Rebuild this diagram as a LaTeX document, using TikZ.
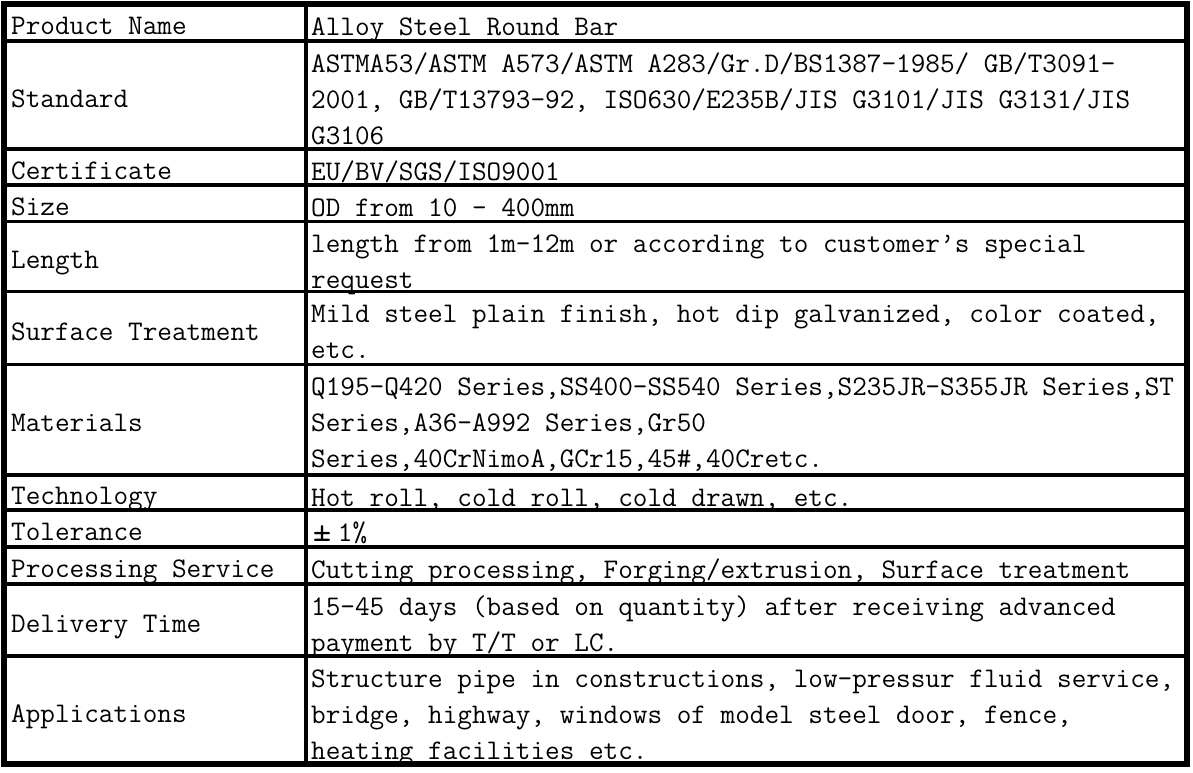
\documentclass[tikz,border=0pt]{standalone}
\usepackage{fontspec}
\usepackage{tikz}
\newcommand\cellfont{\ttfamily\fontsize{28.4}{36}\selectfont}
\frenchspacing

\begin{document}
\begin{tikzpicture}[
  x=1pt, y=-1pt,
  label/.style = {anchor=west, inner sep=0pt, yshift=-4.8pt, font=\cellfont, align=left},
  value/.style = {anchor=north west, inner sep=0pt, yshift=-5.8pt, font=\cellfont, align=left},
  rule/.style  = {line width=3.6pt},
  frame/.style = {line width=6pt}
]
  \useasboundingbox[fill=white] (0,0) rectangle (1193,772);

  % grid of the table
  \foreach \y in {41,149,185,221.5,291.5,364.5,475,510,547,584,656}
    \draw[rule] (4,\y) -- (1187,\y);
  \draw[rule] (306,4) -- (306,764);
  \draw[frame] (3.5,3.5) rectangle (1187,764);

  % left column
  \node[label] (name1)  at (11,22.5)  {\strut Product Name};
  \node[label] (name2)  at (11,95)    {\strut Standard};
  \node[label] (name3)  at (11,167)   {\strut Certificate};
  \node[label] (name4)  at (11,203.2) {\strut Size};
  \node[label] (name5)  at (11,256.5) {\strut Length};
  \node[label] (name6)  at (11,328)   {\strut Surface Treatment};
  \node[label] (name7)  at (11,419.8) {\strut Materials};
  \node[label] (name8)  at (11,492.5) {\strut Technology};
  \node[label] (name9)  at (11,528.5) {\strut Tolerance};
  \node[label] (name10) at (11,565.5) {\strut Processing Service};
  \node[label] (name11) at (11,620)   {\strut Delivery Time};
  \node[label] (name12) at (11,710)   {\strut Applications};

  % right column
  \node[value] (val1)  at (311,4)     {\strut Alloy Steel Round Bar};
  \node[value] (val2)  at (311,41)    {\strut ASTMA53/ASTM A573/ASTM A283/Gr.D/BS1387-1985/ GB/T3091-\\2001, GB/T13793-92, ISO630/E235B/JIS G3101/JIS G3131/JIS\\G3106};
  \node[value] (val3)  at (311,149)   {\strut EU/BV/SGS/ISO9001};
  \node[value] (val4)  at (311,185)   {\strut OD from 10 - 400mm};
  \node[value] (val5)  at (311,221.5) {\strut length from 1m-12m or according to customer’s special\\request};
  \node[value] (val6)  at (311,291.5) {\strut Mild steel plain finish, hot dip galvanized, color coated,\\etc.};
  \node[value] (val7)  at (311,364.5) {\strut Q195-Q420 Series,SS400-SS540 Series,S235JR-S355JR Series,ST\\Series,A36-A992 Series,Gr50\\Series,40CrNimoA,GCr15,45\#,40Cretc.};
  \node[value] (val8)  at (311,475)   {\strut Hot roll, cold roll, cold drawn, etc.};
  \node[value] (val9)  at (311,510)   {\strut \hbox to 22pt{\hss\fontsize{36}{36}\selectfont±\hss}\,1\%};
  \node[value] (val10) at (311,547)   {\strut Cutting processing, Forging/extrusion, Surface treatment};
  \node[value] (val11) at (311,584)   {\strut 15-45 days (based on quantity) after receiving advanced\\payment by T/T or LC.};
  \node[value] (val12) at (311,656)   {\strut Structure pipe in constructions, low-pressur fluid service,\\bridge, highway, windows of model steel door, fence,\\heating facilities etc.};
\end{tikzpicture}
\end{document}
